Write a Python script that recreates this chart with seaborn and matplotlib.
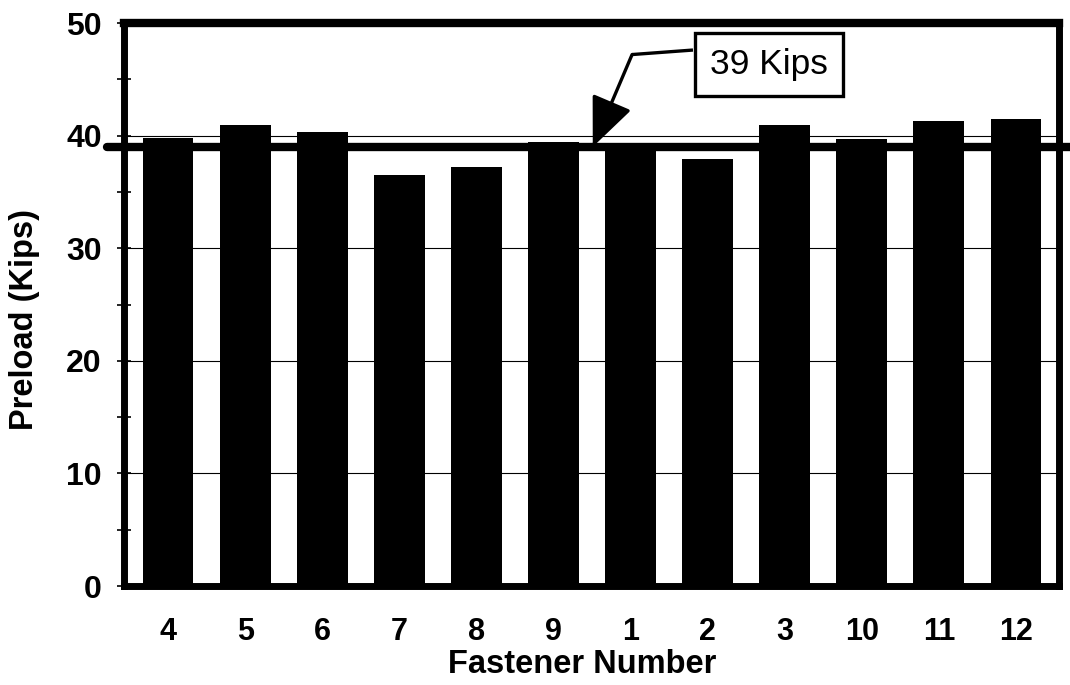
import matplotlib
matplotlib.use("Agg")
import matplotlib.pyplot as plt
import seaborn as sns
import pandas as pd

# Fastener order as installed around the joint, with measured preload (kips)
fasteners = ["4", "5", "6", "7", "8", "9", "1", "2", "3", "10", "11", "12"]
preload = [39.8, 40.9, 40.3, 36.5, 37.2, 39.4, 38.9, 37.9, 40.9, 39.7, 41.3, 41.5]
target_preload = 39
target_label = "39 Kips"
y_ticks = [0, 10, 20, 30, 40, 50]
y_minor = [5, 15, 25, 35, 45]
grid_levels = [10, 20, 30, 40]

df = pd.DataFrame({"Fastener": fasteners, "Preload": preload})

sns.set_theme(style="white")
plt.rcParams["font.family"] = ["Liberation Sans", "DejaVu Sans"]

fig = plt.figure(figsize=(10.7, 6.85), dpi=100)
ax = fig.add_axes([0.1159, 0.1445, 0.8738, 0.8219])

# thin reference lines behind the bars
for g in grid_levels:
    ax.axhline(g, color="black", lw=0.8, zorder=0)

sns.barplot(data=df, x="Fastener", y="Preload", order=fasteners,
            color="black", width=0.66, saturation=1, ax=ax, zorder=2,
            edgecolor="none")

# heavy line marking the target preload, running out past the frame
ax.axhline(target_preload, xmin=-0.018, xmax=1.02, color="black", lw=6,
           zorder=3, clip_on=False)

ax.set_xlim(-0.571, 11.558)
ax.set_ylim(0, 50)
ax.set_yticks(y_ticks)
ax.set_yticks(y_minor, minor=True)
ax.tick_params(axis="y", which="both", direction="inout", length=10,
               width=1.2, color="black", left=True)
ax.tick_params(axis="y", which="major", labelsize=23, pad=11)
ax.tick_params(axis="x", length=0, labelsize=22, pad=22)
for lab in ax.get_xticklabels() + ax.get_yticklabels():
    lab.set_fontweight("bold")
    lab.set_color("black")

for side, lw in (("top", 6), ("left", 5), ("right", 5), ("bottom", 5)):
    ax.spines[side].set_visible(True)
    ax.spines[side].set_color("black")
    ax.spines[side].set_linewidth(lw)
    ax.spines[side].set_zorder(4)

ax.set_xlabel("Fastener Number", fontsize=23.5, fontweight="bold", color="black")
ax.set_ylabel("Preload (Kips)", fontsize=23.5, fontweight="bold", color="black")
ax.xaxis.set_label_coords(0.49, -0.112)
ax.yaxis.set_label_coords(-0.09, 0.474)

# callout box with a bent leader pointing at the target line
ax.text(7.80, 46.3, target_label, fontsize=25.5, ha="center", va="center",
        color="black", zorder=6,
        bbox=dict(boxstyle="square,pad=0.42", fc="white", ec="black", lw=2.4))
ax.plot([6.81, 6.02], [47.6, 47.2], color="black", lw=2.4, zorder=5,
        solid_capstyle="butt")
ax.annotate("", xy=(5.51, target_preload), xytext=(6.02, 47.2),
            arrowprops=dict(arrowstyle="-|>,head_length=1.4,head_width=0.6",
                            mutation_scale=22, color="black", lw=2.4,
                            shrinkA=0, shrinkB=0),
            zorder=5)

fig.savefig("out.png", dpi=100, facecolor="white")
